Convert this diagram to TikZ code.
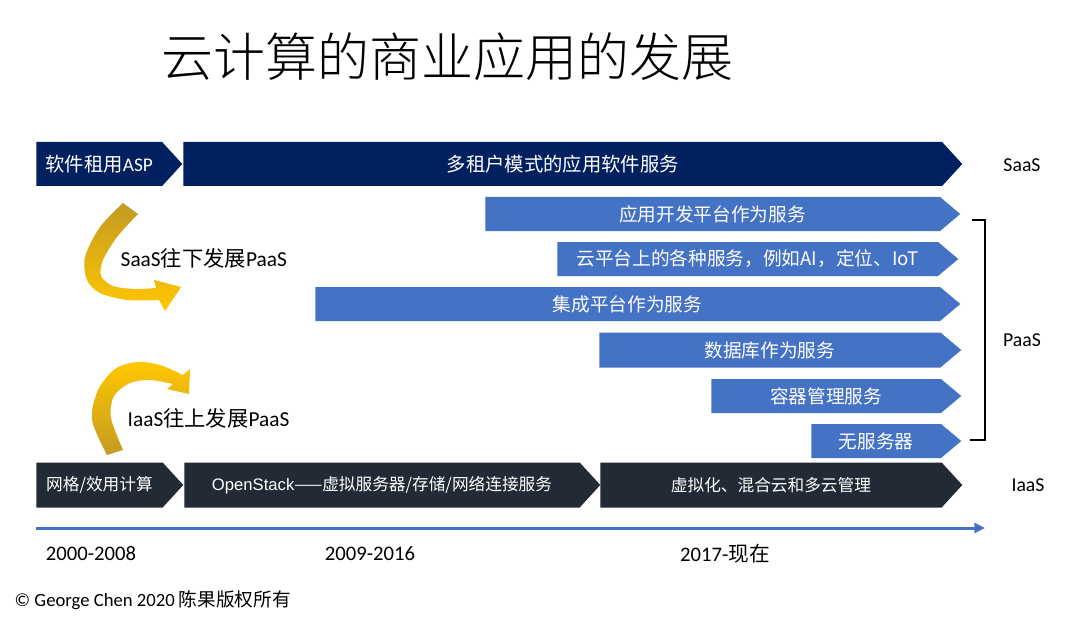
\documentclass[tikz,border=0pt]{standalone}
\usepackage{fontspec}
\setmainfont{Carlito}
\newfontfamily\cjk{Noto Sans CJK SC}
\newfontfamily\cjklight{Noto Sans CJK SC Light}
\newfontfamily\arial{Liberation Sans}
\newcommand\zh[1]{{\cjk #1}}
\newcommand\px{0.75pt}
\usepackage{tikz}
\usetikzlibrary{shapes.symbols, arrows.meta}

\definecolor{navy}{HTML}{002060}
\definecolor{paasblue}{HTML}{4472C4}
\definecolor{slate}{HTML}{222A35}
\definecolor{golddark}{HTML}{C49A22}
\definecolor{goldlight}{HTML}{FFC800}

\begin{document}
\begin{tikzpicture}[x=0.75pt, y=-0.75pt]

  \tikzset{
    stage/.style={signal, signal to=east, signal from=nowhere,
      anchor=west, inner sep=0pt, text=white, fill=#1},
    saasstage/.style={stage=navy, signal pointer angle=95,
      minimum height=44*\px, font=\fontsize{14.5}{17}\selectfont},
    paasstage/.style={stage=paasblue, signal pointer angle=80,
      minimum height=34*\px, font=\fontsize{14}{17}\selectfont},
    iaasstage/.style={stage=slate, signal pointer angle=95,
      minimum height=45*\px, font=\fontsize{12.5}{15}\selectfont},
    layer/.style={font=\fontsize{14.8}{17}\selectfont},
    trend/.style={anchor=west, font=\fontsize{16}{19}\selectfont},
    year/.style={font=\fontsize{15.5}{18}\selectfont},
    goldarrow/.style={top color=#1, bottom color=goldlight!100!#1},
    timeline/.style={line width=2.25pt, paasblue,
      -{Triangle[length=8pt, width=7.5pt]}},
    bracket/.style={line width=1.1pt, black}
  }

  \fill[white] (0,0) rectangle (1080,620);
  \useasboundingbox (0,0) rectangle (1080,620);

  \node[font=\fontsize{39}{44}\selectfont\cjklight] (title) at (447,57)
    {云计算的商业应用的发展};

  % SaaS row
  \node[saasstage, minimum width=146*\px] (asp) at (36,164)
    {\zh{软件租用}ASP\hspace{14pt}};
  \node[saasstage, minimum width=779*\px] (multi) at (183,164)
    {\zh{多租户模式的应用软件服务}};

  % PaaS rows
  \node[paasstage, minimum width=475*\px] (appdev) at (485,214)
    {\zh{应用开发平台作为服务}};
  \node[paasstage, minimum width=401*\px] (cloudsvc) at (557,259)
    {\zh{云平台上的各种服务，例如AI，定位、IoT}};
  \node[paasstage, minimum width=645*\px] (integ) at (315,304)
    {\zh{集成平台作为服务}};
  \node[paasstage, minimum width=362*\px, minimum height=35*\px] (dbaas) at (599,350)
    {\zh{数据库作为服务}};
  \node[paasstage, minimum width=250*\px] (container) at (711,396)
    {\zh{容器管理服务}};
  \node[paasstage, minimum width=150*\px] (serverless) at (811,441)
    {\zh{无服务器}};

  % IaaS row
  \node[iaasstage, minimum width=147*\px] (grid) at (36,485)
    {\zh{网格/效用计算}};
  \node[iaasstage, minimum width=416*\px] (openstack) at (184,485)
    {{\arial OpenStack}\zh{——虚拟服务器/存储/网络连接服务}};
  \node[iaasstage, minimum width=362*\px] (virt) at (600,485)
    {\zh{虚拟化、混合云和多云管理}};

  \node[layer] (saas) at (1022,165) {SaaS};
  \node[layer] (paas) at (1022,340) {PaaS};
  \node[layer] (iaas) at (1028,485) {IaaS};
  \draw[bracket] (972,220) -| (985,440) -- (970,440);

  % curved arrows
  \shade[goldarrow=golddark] (123,203) -- (138,214)
    -- plot[smooth] coordinates {(138,214) (117,237) (103,260) (101,276)
       (113,286) (135,289) (156,288)}
    -- (154,280) -- (181,287) -- (165,311) -- (159,300)
    -- plot[smooth] coordinates {(159,300) (127,300) (100,293) (87,280)
       (85,257) (100,227) (123,203)} -- cycle;
  \node[trend] (down) at (116,258) {SaaS\zh{往下发展}PaaS};

  \shade[goldarrow=golddark, top color=goldlight, bottom color=golddark]
    (107,455) -- (123,450)
    -- plot[smooth] coordinates {(123,450) (111,418) (114,396) (130,383)
       (150,380) (173,384)}
    -- (167,389) -- (189,394) -- (190,369) -- (183,375)
    -- plot[smooth] coordinates {(183,375) (160,365) (137,362) (115,369)
       (98,390) (92,420) (107,455)} -- cycle;
  \node[trend] (up) at (123,418) {IaaS\zh{往上发展}PaaS};

  % timeline
  \coordinate (tstart) at (36,528);
  \coordinate (tend) at (985,528);
  \draw[timeline] (tstart) -- (tend);
  \node[year] (y1) at (91,554) {2000-2008};
  \node[year] (y2) at (370,554) {2009-2016};
  \node[year] (y3) at (725,554) {2017-\zh{现在}};

  \node[anchor=west, font=\fontsize{14}{17}\selectfont] (copy) at (10,600)
    {© George Chen 2020 \zh{陈果版权所有}};

\end{tikzpicture}
\end{document}
